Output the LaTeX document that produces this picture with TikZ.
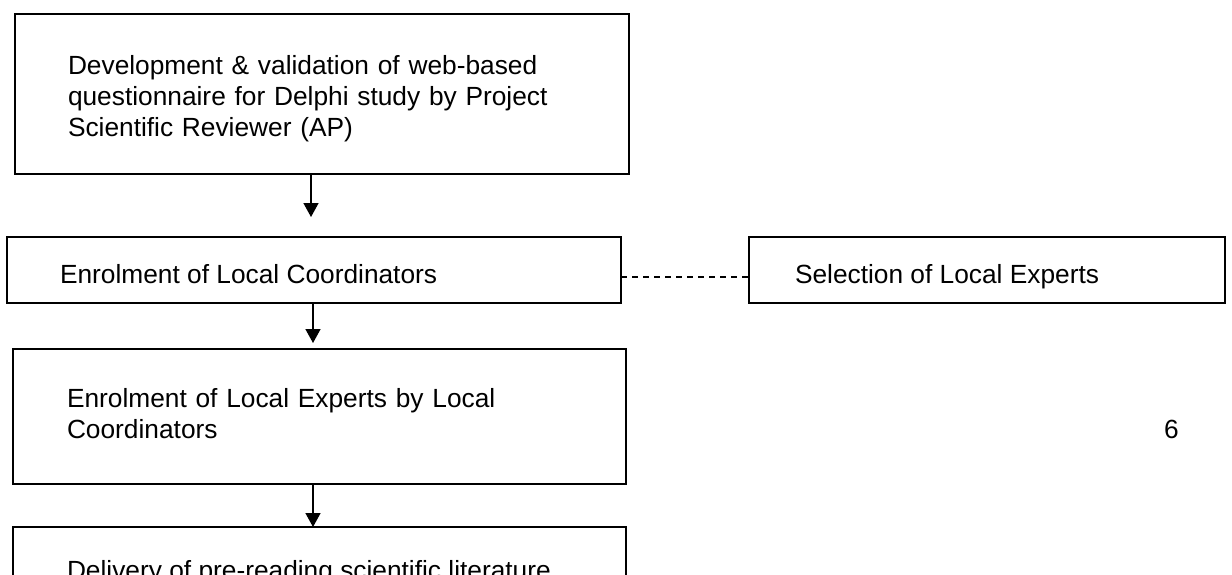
\documentclass[tikz,border=0pt]{standalone}
\usepackage{fontspec}
\setmainfont{Liberation Sans}
\usetikzlibrary{arrows.meta,calc}
\tikzset{
  x=1pt, y=-1pt,
  boxnode/.style={draw, line width=1.2pt, rectangle, inner sep=0pt, outer sep=0pt, anchor=north west},
  txt/.style={inner sep=0pt, outer sep=0pt, anchor=base west, align=left, font=\fontsize{26.3}{31}\selectfont},
  arr/.style={line width=1.5pt, -{Triangle[width=15pt,length=14pt]}},
  dashline/.style={line width=1.5pt, dash pattern=on 6pt off 5pt},
  thickframe/.style={line width=2.8pt, line cap=rect}
}
\newcommand{\frameit}[1]{%
  \draw[thickframe] ($(#1.south west)+(33,0)$) -- (#1.south west) -- (#1.north west) -- (#1.north east) -- (#1.south east) -- ($(#1.south east)+(-33,0)$);}
\begin{document}
\begin{tikzpicture}
\path[use as bounding box, fill=white] (0,0) rectangle (1232,574);
\clip (0,0) rectangle (1232,574);
% boxes
\node[boxnode, minimum width=614pt, minimum height=160pt] (b1) at (15,14) {};
\node[boxnode, minimum width=614pt, minimum height=66pt] (b2) at (7,237) {};
\node[boxnode, minimum width=476pt, minimum height=66pt] (b3) at (749,237) {};
\node[boxnode, line width=2.8pt, minimum width=613pt, minimum height=135pt] (b4) at (13,349) {};
\node[boxnode, line width=2.8pt, minimum width=613pt, minimum height=120pt] (b5) at (13,527) {};
\frameit{b1}
\frameit{b2}
\frameit{b3}
% texts
\node[txt, text width=560pt] (t1) at (68,74) {Development \& validation of web-based\\questionnaire for Delphi study by Project\\Scientific Reviewer (AP)};
\node[txt] (t2) at (60,283) {Enrolment of Local Coordinators};
\node[txt] (t3) at (795,283) {Selection of Local Experts};
\node[txt, text width=560pt] (t4) at (67,407) {Enrolment of Local Experts by Local\\Coordinators};
\node[txt] (t5) at (67,579) {Delivery of pre-reading scientific literature};
\node[txt] (six) at (1164,438) {6};
% connectors
\coordinate (a1) at (311,217);
\coordinate (a2) at (313,343);
\coordinate (a3) at (313,0);
\coordinate (d) at (0,277);
\draw[arr] (b1.south -| a1) -- (a1);
\draw[arr] (b2.south -| a2) -- (a2);
\draw[arr] (b4.south -| a3) -- (b5.north -| a3);
\draw[dashline] (b2.east |- d) -- (b3.west |- d);
\end{tikzpicture}
\end{document}
